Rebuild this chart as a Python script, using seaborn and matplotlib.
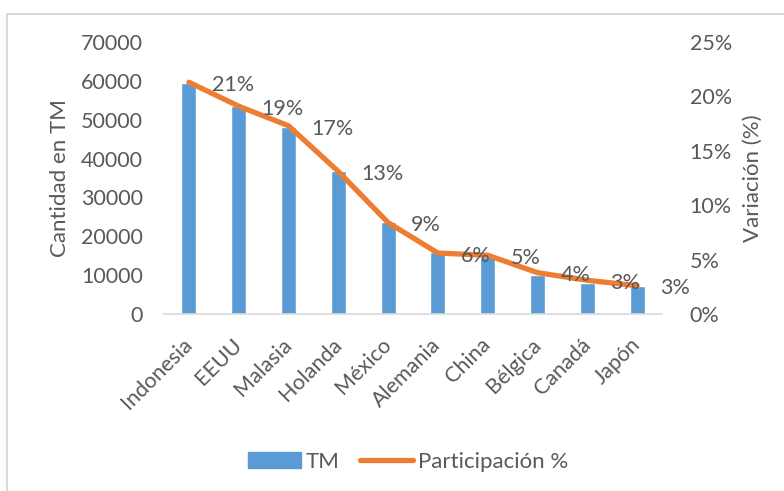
import matplotlib
matplotlib.use("Agg")
import matplotlib.pyplot as plt
import seaborn as sns
import numpy as np
import pandas as pd
from matplotlib.ticker import FuncFormatter, MultipleLocator
from matplotlib.lines import Line2D
from matplotlib.patches import Patch

paises = ["Indonesia", "EEUU", "Malasia", "Holanda", "México", "Alemania",
          "China", "Bélgica", "Canadá", "Japón"]
toneladas = [59500, 53500, 48200, 36700, 23800, 15900, 14700, 10100, 8100, 7200]
participacion = [21.3, 19.1, 17.3, 13.1, 8.4, 5.6, 5.4, 3.8, 3.1, 2.6]
etiquetas = ["21%", "19%", "17%", "13%", "9%", "6%", "5%", "4%", "3%", "3%"]

df = pd.DataFrame({"pais": paises, "tm": toneladas, "part": participacion})

sns.set_theme(style="white")
FONT = ["Lato", "DejaVu Sans"]
plt.rcParams["font.family"] = FONT
TXT = "#595959"
BLUE = "#5B9BD5"
ORANGE = "#ED7D31"
GRID = "#D9D9D9"
FS = 15.5

fig = plt.figure(figsize=(7.84, 4.91), dpi=100)
ax = fig.add_axes([164/784, 1-314/491, (662-164)/784, (314-42)/491])

sns.barplot(data=df, x="pais", y="tm", color=BLUE, width=0.3, saturation=1,
            ax=ax, zorder=2)
ax.set_ylim(0, 70000)
ax.set_xlim(-0.5, 9.5)
ax.yaxis.set_major_locator(MultipleLocator(10000))
ax.set_xlabel("")
ax.set_ylabel("Cantidad en TM", fontsize=16, color=TXT, labelpad=8)
for s in ["top", "right", "left"]:
    ax.spines[s].set_visible(False)
ax.spines["bottom"].set_color(GRID)
ax.spines["bottom"].set_linewidth(1.2)
ax.tick_params(axis="y", length=0, labelsize=FS, labelcolor=TXT, pad=15)
ax.tick_params(axis="x", length=0, labelsize=FS, labelcolor=TXT, pad=20)
for lab in ax.get_xticklabels():
    lab.set_rotation(45)
    lab.set_ha("right")
    lab.set_va("center")
    lab.set_rotation_mode("anchor")

ax2 = ax.twinx()
sns.lineplot(x=np.arange(len(paises)), y=df["part"], color=ORANGE, linewidth=3.8,
             sort=False, ax=ax2, zorder=3, solid_capstyle="round")
ax2.set_ylim(0, 25)
ax2.set_xlim(-0.5, 9.5)
ax2.yaxis.set_major_locator(MultipleLocator(5))
ax2.yaxis.set_major_formatter(FuncFormatter(lambda v, p: f"{v:.0f}%"))
ax2.set_ylabel("Variación (%)", fontsize=16, color=TXT, labelpad=8)
for s in ["top", "right", "left", "bottom"]:
    ax2.spines[s].set_visible(False)
ax2.tick_params(axis="y", length=0, labelsize=FS, labelcolor=TXT, pad=20)

for i, (v, t) in enumerate(zip(participacion, etiquetas)):
    ax2.annotate(t, (i, v), xytext=(16.5, -2), textcoords="offset points",
                 ha="left", va="center", fontsize=FS, color=TXT, zorder=4)

handles = [Patch(facecolor=BLUE, edgecolor=BLUE),
           Line2D([0], [0], color=ORANGE, linewidth=3.8, solid_capstyle="round")]
fig.legend(handles, ["TM", "Participación %"], loc="center",
           bbox_to_anchor=(408/784, 1-462/491), ncol=2, frameon=False,
           fontsize=16, labelcolor=TXT, handlelength=2.4, handletextpad=0.2,
           columnspacing=0.9)

# outer chart frame (left and top borders)
fig.add_artist(Line2D([7/784, 7/784], [0, 1-14/491], color=GRID, linewidth=1.5,
                      transform=fig.transFigure))
fig.add_artist(Line2D([7/784, 1], [1-14/491, 1-14/491], color=GRID, linewidth=1.5,
                      transform=fig.transFigure))

fig.savefig("out.png", dpi=100)
